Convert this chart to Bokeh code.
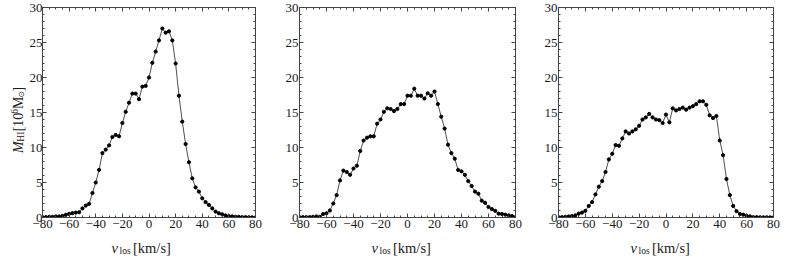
import math
from bokeh.plotting import figure
from bokeh.models import Range1d, FixedTicker, LinearAxis
from bokeh.layouts import row, column
from bokeh.core.properties import value
from bokeh.embed import file_html
from bokeh.resources import INLINE

# ---------------- data ----------------
v_los = [-80.0, -77.5, -75.0, -72.5, -70.0, -67.5, -65.0, -62.5, -60.0, -57.5,
         -55.0, -52.5, -50.0, -47.5, -45.0, -42.5, -40.0, -37.5, -35.0, -32.5,
         -30.0, -27.5, -25.0, -22.5, -20.0, -17.5, -15.0, -12.5, -10.0, -7.5,
         -5.0, -2.5, 0.0, 2.5, 5.0, 7.5, 10.0, 12.5, 15.0, 17.5,
         20.0, 22.5, 25.0, 27.5, 30.0, 32.5, 35.0, 37.5, 40.0, 42.5,
         45.0, 47.5, 50.0, 52.5, 55.0, 57.5, 60.0, 62.5, 65.0, 67.5,
         70.0, 72.5, 75.0, 77.5, 80.0]

m_hi_1 = [0.05, 0.05, 0.10, 0.08, 0.15, 0.15, 0.22, 0.38, 0.52, 0.62,
          0.70, 0.75, 1.30, 1.70, 1.95, 3.50, 5.00, 6.80, 9.20, 9.70,
          10.3, 11.5, 11.8, 11.6, 13.5, 15.1, 16.4, 17.7, 17.7, 16.9,
          18.7, 18.8, 20.0, 22.1, 23.7, 25.3, 27.0, 26.4, 26.6, 25.3,
          22.0, 17.4, 13.7, 10.5, 7.9, 5.6, 4.3, 3.7, 2.75, 2.2,
          1.8, 1.3, 0.85, 0.6, 0.45, 0.3, 0.2, 0.15, 0.1, 0.1,
          0.05, 0.05, 0.03, 0.02, 0.0]

m_hi_2 = [0.05, 0.05, 0.05, 0.05, 0.10, 0.15, 0.10, 0.50, 0.60, 1.00,
          2.0, 3.2, 5.3, 6.7, 6.5, 6.1, 7.0, 7.4, 9.5, 11.0,
          11.4, 11.6, 11.6, 13.4, 14.0, 15.1, 15.6, 15.5, 15.2, 15.5,
          16.2, 16.2, 17.4, 17.4, 18.4, 17.4, 17.4, 17.0, 17.75, 17.4,
          18.0, 16.2, 14.4, 12.7, 10.4, 9.2, 8.4, 6.8, 6.6, 6.1,
          5.2, 4.5, 3.7, 3.4, 2.4, 2.1, 1.5, 1.2, 0.95, 0.55,
          0.5, 0.4, 0.3, 0.2, 0.05]

m_hi_3 = [0.05, 0.05, 0.10, 0.15, 0.20, 0.30, 0.55, 0.70, 0.95, 1.65,
          2.2, 3.3, 4.4, 5.2, 6.5, 8.3, 9.1, 10.35, 10.25, 11.3,
          12.3, 12.0, 12.3, 12.6, 13.1, 14.0, 14.3, 14.8, 14.3, 14.0,
          13.9, 13.5, 14.7, 13.6, 15.6, 15.3, 15.5, 15.7, 15.4, 15.7,
          15.9, 16.2, 16.6, 16.6, 16.1, 14.6, 14.2, 14.5, 11.0, 8.9,
          5.5, 3.2, 1.65, 0.9, 0.5, 0.4, 0.25, 0.15, 0.05, 0.05,
          0.03, 0.03, 0.03, 0.02, 0.02]

x_ticks = [-80, -60, -40, -20, 0, 20, 40, 60, 80]
x_tick_labels = ["\u221280", "\u221260", "\u221240", "\u221220", "0", "20", "40", "60", "80"]
y_ticks = [0, 5, 10, 15, 20, 25, 30]
y_tick_labels = ["0", "5", "10", "15", "20", "25", "30"]

x_label_parts = ["v", "los", "[km/s]"]
y_label_parts = ["M", "HI", "[10", "6", "M", "\u2299", "]"]

# ---------------- layout / style ----------------
FONT = "Liberation Serif"
AX_COL = "#444444"
TXT_COL = "#1a1a1a"
TOP_B = 7
FRAME_H = 210
BOT_B = 17
FIG_H = TOP_B + FRAME_H + BOT_B          # main panels: page y 0 .. 234
STRIP_H = 28                              # x-label strip: page y 234 .. 262
YLAB_W = 26                               # y-label strip: page x 0 .. 26
x_minor = list(range(-80, 81, 5))
y_minor = list(range(0, 31, 1))


def style_axis(ax, ticker, ticks, labels, standoff):
    ax.ticker = ticker
    ax.axis_label = None
    ax.axis_line_color = AX_COL
    ax.major_tick_line_color = AX_COL
    ax.minor_tick_line_color = AX_COL
    ax.major_tick_in = 4
    ax.major_tick_out = 0
    ax.minor_tick_in = 2
    ax.minor_tick_out = 0
    ax.major_label_standoff = standoff
    ax.major_label_text_font = FONT
    ax.major_label_text_font_size = "13px"
    ax.major_label_text_color = TXT_COL
    ax.major_label_overrides = dict(zip(ticks, labels))


def make_panel(m, width, left, y_standoff):
    p = figure(width=width, height=FIG_H, output_backend="svg", toolbar_location=None,
               x_range=Range1d(-80, 80), y_range=Range1d(0, 30),
               min_border_left=left, min_border_right=13,
               min_border_top=TOP_B, min_border_bottom=BOT_B)
    p.grid.visible = False
    p.outline_line_color = AX_COL
    p.outline_line_width = 1
    p.background_fill_color = "white"
    p.border_fill_color = "white"

    p.line(v_los, m, line_color="#222222", line_width=0.8)
    p.scatter(v_los, m, size=3.2, marker="circle", fill_color="black", line_color="black")

    style_axis(p.xaxis[0], FixedTicker(ticks=x_ticks, minor_ticks=x_minor),
               x_ticks, x_tick_labels, 2)
    style_axis(p.yaxis[0], FixedTicker(ticks=y_ticks, minor_ticks=y_minor),
               y_ticks, y_tick_labels, y_standoff)

    top = LinearAxis()
    style_axis(top, FixedTicker(ticks=x_ticks, minor_ticks=x_minor),
               x_ticks, [""] * len(x_ticks), 0)
    p.add_layout(top, "above")
    right = LinearAxis()
    style_axis(right, FixedTicker(ticks=y_ticks, minor_ticks=y_minor),
               y_ticks, [""] * len(y_ticks), 0)
    p.add_layout(right, "right")
    return p


def blank_fig(w, h):
    f = figure(width=w, height=h, output_backend="svg", toolbar_location=None,
               x_range=Range1d(0, w), y_range=Range1d(0, h),
               min_border=0, min_border_left=0, min_border_right=0,
               min_border_top=0, min_border_bottom=0,
               x_axis_location=None, y_axis_location=None)
    f.grid.visible = False
    f.outline_line_color = None
    f.background_fill_color = "white"
    f.border_fill_color = "white"
    return f


p1 = make_panel(m_hi_1, 13 + 216 + 13, 13, 0)   # frame page x 39 .. 255
p2 = make_panel(m_hi_2, 260, 31, 1)             # frame page x 299 .. 515
p3 = make_panel(m_hi_3, 258, 30, 1)             # frame page x 558 .. 773

# ---- y-axis label strip (rotated text, reads bottom to top) ----
ylab = blank_fig(YLAB_W, FIG_H)
# (baseline x, start y measured from the top) in strip pixels, size, style, font
y_specs = [(18.0, 162.0, "14px", "italic", FONT),
           (20.5, 149.5, "9.5px", "normal", FONT),
           (18.0, 138.0, "14px", "normal", FONT),
           (13.5, 118.5, "9.5px", "normal", FONT),
           (18.0, 113.0, "14px", "normal", FONT),
           (20.5, 100.5, "8px", "normal", "DejaVu Sans"),
           (18.0, 93.5, "14px", "normal", FONT)]
for txt, (sx, sy, fs, st, fnt) in zip(y_label_parts, y_specs):
    ylab.text(x=[sx], y=[FIG_H - sy], text=[txt], angle=math.pi / 2,
              text_font=value(fnt), text_font_size=value(fs), text_font_style=st,
              text_color=TXT_COL, text_align="left", text_baseline="alphabetic")

# ---- x-axis label strip ----
xlab = blank_fig(786, STRIP_H)
frame_lefts = [39, 299, 558]                 # frame left edges in page pixels
x_specs = [(72, 13.0, "14.5px", "italic"),
           (80, 16.5, "9.5px", "normal"),
           (93.5, 13.0, "14.5px", "normal")]
for fl in frame_lefts:
    for txt, (dx, sy, fs, st) in zip(x_label_parts, x_specs):
        xlab.text(x=[fl + dx], y=[STRIP_H - sy], text=[txt],
                  text_font=value(FONT), text_font_size=value(fs), text_font_style=st,
                  text_color=TXT_COL, text_align="left", text_baseline="alphabetic")

layout = column(row(ylab, p1, p2, p3), xlab)
open("out.html", "w").write(file_html(layout, INLINE))
